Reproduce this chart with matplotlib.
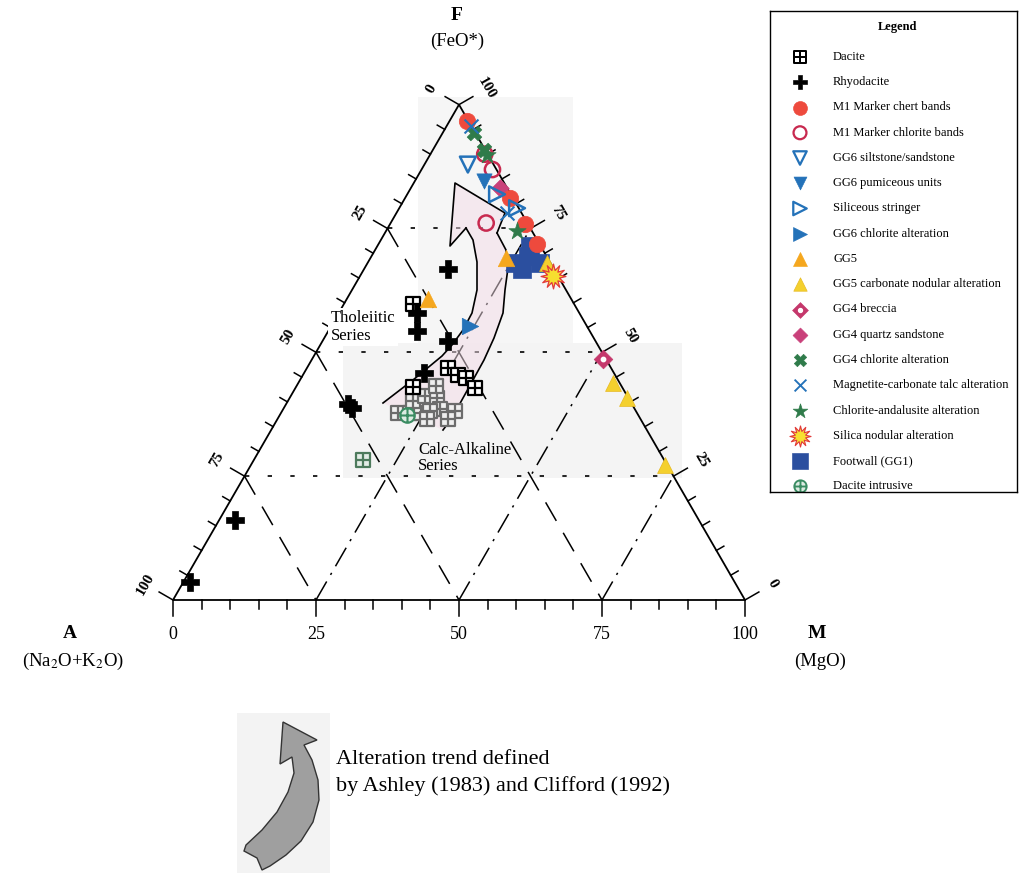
import numpy as np
import matplotlib
matplotlib.use("Agg")
import matplotlib.pyplot as plt
from matplotlib.path import Path
from matplotlib.patches import Polygon, Rectangle

plt.rcParams["font.family"] = ["Liberation Serif", "DejaVu Serif"]
plt.rcParams["mathtext.fontset"] = "stix"

# ---------------------------------------------------------------------------
# Whole-rock compositions, (A, F, M) in percent
#   A = Na2O + K2O,  F = FeO*,  M = MgO
# ---------------------------------------------------------------------------
dacite = [(28.1, 59.8, 12.1), (28.5, 46.9, 24.6), (27.4, 45.5, 27.1),
          (26.3, 44.9, 28.8), (25.9, 42.7, 31.4), (36.6, 42.9, 20.5)]
dacite_faint = [(41.8, 37.8, 20.4), (39.7, 37.8, 22.5), (37.7, 37.8, 24.5),
                (37.9, 40.2, 21.9), (35.3, 41.2, 23.5), (33.4, 40.8, 25.8),
                (34.0, 38.6, 27.4), (36.0, 38.2, 25.8), (31.6, 38.2, 30.2),
                (33.6, 36.6, 29.8), (37.3, 36.6, 26.1), (32.4, 43.3, 24.3)]
dacite_green = [(52.7, 28.2, 19.1)]
rhyodacite = [(18.5, 66.8, 14.7), (28.4, 57.9, 13.7), (30.2, 54.3, 15.5),
              (25.8, 52.3, 21.9), (33.2, 45.9, 20.9), (49.6, 39.6, 10.8),
              (49.3, 38.8, 11.9), (81.1, 16.1, 2.8), (95.2, 3.6, 1.2)]
m1_chert = [(0.3, 96.6, 3.1), (0.5, 81.1, 18.4), (0.5, 75.9, 23.6),
            (0.5, 71.8, 27.7)]
m1_chlorite = [(0.7, 86.9, 12.4), (7.2, 76.1, 16.7), (0.5, 90.0, 9.5)]
gg6_siltstone = [(4.5, 87.9, 7.6)]
gg6_pumiceous = [(3.3, 84.5, 12.2)]
siliceous_stringer = [(2.4, 81.9, 15.7), (0.3, 79.1, 20.6)]
gg6_chlorite = [(20.4, 55.3, 24.3)]
gg5 = [(25.0, 60.8, 14.2), (7.3, 69.0, 23.7)]
gg5_carbonate = [(1.1, 43.9, 55.0), (0.2, 40.8, 59.0), (0.4, 27.2, 72.4),
                 (0.6, 68.0, 31.4)]
gg4_breccia = [(0.5, 48.7, 50.8)]
gg4_quartz = [(0.9, 65.4, 33.7), (1.3, 83.1, 15.6)]
gg4_chlorite = [(0.2, 94.2, 5.6), (0.2, 90.9, 8.9)]
magnetite_talc = [(0.1, 95.6, 4.3), (2.6, 78.1, 19.3)]
chlorite_andalusite = [(0.2, 89.9, 9.9), (2.7, 74.4, 22.9)]
silica_nodular = [(0.9, 65.4, 33.7)]
footwall = [(6.2, 68.0, 25.8), (3.2, 69.4, 27.4), (1.8, 68.0, 30.2),
            (1.9, 71.4, 26.7), (5.6, 66.8, 27.6)]
dacite_intrusive = [(40.4, 37.4, 22.2)]

grid_levels = [25, 50, 75]
tick_step = 5

# ---------------------------------------------------------------------------
# Marker shapes
# ---------------------------------------------------------------------------
M_, L_, C_ = Path.MOVETO, Path.LINETO, Path.CLOSEPOLY
gridded_square = Path([(-1, -1), (1, -1), (1, 1), (-1, 1), (-1, -1),
                       (0, -1), (0, 1), (-1, 0), (1, 0)],
                      [M_, L_, L_, L_, C_, M_, L_, M_, L_])
circle_plus = Path.make_compound_path(
    Path.unit_circle(),
    Path([(0, -1), (0, 1), (-1, 0), (1, 0)], [M_, L_, M_, L_]))

BLUE = "#2472b9"
GREEN = "#2f7b4a"
MAGENTA = "#c5386c"

# label, data, style, shown in legend
series = [
    ("Dacite", dacite_faint, dict(marker=gridded_square, s=105, fc="#efefef", ec="#6c6c6c", lw=1.6), False),
    ("Dacite", dacite_green, dict(marker=gridded_square, s=105, fc="#e3ece6", ec="#4d7a5c", lw=1.6), False),
    ("Dacite", dacite, dict(marker=gridded_square, s=105, fc="white", ec="black", lw=1.6), True),
    ("Rhyodacite", rhyodacite, dict(marker="P", s=150, fc="black", ec="black", lw=0.5), True),
    ("Footwall (GG1)", footwall, dict(marker="s", s=175, fc="#2b4f9f", ec="#2b4f9f", lw=0.5), True),
    ("GG6 chlorite alteration", gg6_chlorite, dict(marker=">", s=140, fc=BLUE, ec=BLUE, lw=0.5), True),
    ("GG5", gg5, dict(marker="^", s=140, fc="#f5a71e", ec="#f5a71e", lw=0.5), True),
    ("GG5 carbonate nodular alteration", gg5_carbonate, dict(marker="^", s=130, fc="#f4d02e", ec="#e6b820", lw=0.5), True),
    ("GG4 breccia", gg4_breccia, dict(marker="D", s=90, fc=MAGENTA, ec=MAGENTA, lw=0.5, dot=True), True),
    ("GG4 quartz sandstone", gg4_quartz, dict(marker="D", s=80, fc="#c9407a", ec="#c9407a", lw=0.5), True),
    ("Silica nodular alteration", silica_nodular, dict(marker=(12, 1, 0), s=320, fc="#f6df30", ec="#e23a3a", lw=0.9), True),
    ("M1 Marker chert bands", m1_chert, dict(marker="o", s=140, fc="#ee4a3d", ec="#ee4a3d", lw=0.5), True),
    ("M1 Marker chlorite bands", m1_chlorite, dict(marker="o", s=120, fc="none", ec="#c8294f", lw=1.8), True),
    ("GG6 siltstone/sandstone", gg6_siltstone, dict(marker="v", s=130, fc="none", ec=BLUE, lw=1.8), True),
    ("GG6 pumiceous units", gg6_pumiceous, dict(marker="v", s=120, fc=BLUE, ec=BLUE, lw=0.5), True),
    ("Siliceous stringer", siliceous_stringer, dict(marker=">", s=130, fc="none", ec=BLUE, lw=1.8), True),
    ("GG4 chlorite alteration", gg4_chlorite, dict(marker="X", s=110, fc=GREEN, ec=GREEN, lw=0.5), True),
    ("Magnetite-carbonate talc alteration", magnetite_talc, dict(marker="x", s=100, fc=BLUE, ec="#3d84c6", lw=1.5), True),
    ("Chlorite-andalusite alteration", chlorite_andalusite, dict(marker="*", s=170, fc=GREEN, ec=GREEN, lw=0.5), True),
    ("Dacite intrusive", dacite_intrusive, dict(marker=circle_plus, s=110, fc="#dcebe2", ec="#3a8c62", lw=1.5), True),
]
legend_order = ["Dacite", "Rhyodacite", "M1 Marker chert bands",
                "M1 Marker chlorite bands", "GG6 siltstone/sandstone",
                "GG6 pumiceous units", "Siliceous stringer",
                "GG6 chlorite alteration", "GG5",
                "GG5 carbonate nodular alteration", "GG4 breccia",
                "GG4 quartz sandstone", "GG4 chlorite alteration",
                "Magnetite-carbonate talc alteration",
                "Chlorite-andalusite alteration", "Silica nodular alteration",
                "Footwall (GG1)", "Dacite intrusive"]

# ---------------------------------------------------------------------------
# Ternary helpers
# ---------------------------------------------------------------------------
H3 = np.sqrt(3) / 2


def to_xy(afm):
    arr = np.atleast_2d(np.asarray(afm, dtype=float))
    tot = arr.sum(axis=1)
    f = arr[:, 1] / tot * 100
    m = arr[:, 2] / tot * 100
    return m + f / 2, f * H3


W, H = 1019, 873
PX = 5.72            # page units per ternary percent
X0, Y0 = 173, 600    # page position of the A apex

fig = plt.figure(figsize=(W / 100, H / 100), dpi=100)
ax = fig.add_axes([0, 0, 1, 1])
ax.set_xlim(-X0 / PX, (W - X0) / PX)
ax.set_ylim((Y0 - H) / PX, Y0 / PX)
ax.axis("off")


def page(pts):
    return np.array([((x - X0) / PX, (Y0 - y) / PX) for x, y in pts])


# light backing panels
for (x0, y0, x1, y1), c in [((418, 97, 573, 343), "#f6f6f6"),
                            ((343, 343, 682, 478), "#f4f4f4"),
                            ((237, 713, 330, 873), "#f3f3f3")]:
    (bx, by), (tx, ty) = page([(x0, y1), (x1, y0)])
    ax.add_patch(Rectangle((bx, by), tx - bx, ty - by, fc=c, ec="none", zorder=0))

# triangle frame
cx, cy = to_xy([(100, 0, 0), (0, 0, 100), (0, 100, 0), (100, 0, 0)])
ax.plot(cx, cy, color="black", lw=1.3, zorder=2, solid_capstyle="butt")

# internal grid
for v in grid_levels:
    gx, gy = to_xy([(100 - v, v, 0), (0, v, 100 - v)])          # constant F
    ax.plot(gx, gy, color="black", lw=1.2, ls=(0, (2.6, 11)), zorder=1)
    gx, gy = to_xy([(v, 100 - v, 0), (v, 0, 100 - v)])          # constant A
    ax.plot(gx, gy, color="black", lw=1.1, ls=(0, (14, 9)), zorder=1)
    gx, gy = to_xy([(100 - v, 0, v), (0, 100 - v, v)])          # constant M
    ax.plot(gx, gy, color="black", lw=1.1, ls=(0, (14, 5, 1.5, 5)), zorder=1)

# ticks and tick labels
for v in range(0, 101, tick_step):
    major = v % 25 == 0
    L = 2.8 if major else 1.5
    bx, by = [c[0] for c in to_xy((100 - v, 0, v))]
    ax.plot([bx, bx], [by, by - L], color="black", lw=1.1, zorder=2)
    lx, ly = [c[0] for c in to_xy((v, 100 - v, 0))]
    ax.plot([lx, lx - L * H3], [ly, ly + L * 0.5], color="black", lw=1.1, zorder=2)
    rx, ry = [c[0] for c in to_xy((0, v, 100 - v))]
    ax.plot([rx, rx + L * H3], [ry, ry + L * 0.5], color="black", lw=1.1, zorder=2)
    if major:
        ax.text(bx, by - 6.0, f"{v}", ha="center", va="center", fontsize=13)
        d = 5.6
        ax.text(lx - d * H3, ly + d * 0.5, f"{v}", ha="center", va="center",
                fontsize=11, fontweight="bold", rotation=60)
        ax.text(rx + d * H3, ry + d * 0.5, f"{v}", ha="center", va="center",
                fontsize=11, fontweight="bold", rotation=-60)

# apex labels
for (px, py), t, kw in [((457, 15), "F", dict(fontsize=14, fontweight="bold")),
                        ((457, 41), "(FeO*)", dict(fontsize=13.5)),
                        ((70, 633), "A", dict(fontsize=14, fontweight="bold")),
                        ((73, 661), r"(Na$_2$O+K$_2$O)", dict(fontsize=13.5)),
                        ((817, 633), "M", dict(fontsize=14, fontweight="bold")),
                        ((820, 661), "(MgO)", dict(fontsize=13.5))]:
    (x, y), = page([(px, py)])
    ax.text(x, y, t, ha="center", va="center", **kw)

# alteration-trend arrow drawn on the diagram
left_edge = [(383, 403), (413, 380), (442, 356), (452, 345), (463, 330),
             (472, 313), (477, 290), (477, 262), (473, 240), (466, 228)]
head = [(466, 228), (450, 246), (455, 183), (505, 213), (497, 233)]
right_edge = [(497, 233), (506, 250), (508, 268), (505, 290), (503, 313),
              (494, 338), (484, 360), (473, 380), (463, 398), (452, 418),
              (443, 430)]
body = page(left_edge + head[1:] + right_edge[1:])
ax.add_patch(Polygon(body, closed=True, fc="#f3dce7", ec="none", alpha=0.5, zorder=1.5))
for seg in (left_edge, head, right_edge):
    p = page(seg)
    ax.plot(p[:, 0], p[:, 1], color="black", lw=1.2, zorder=2.5)

# series labels
(tx, ty), = page([(331, 327)])
ax.text(tx, ty, "Tholeiitic\nSeries", ha="left", va="center", fontsize=12,
        linespacing=1.1, zorder=3,
        bbox=dict(fc="white", ec="none", pad=2))
(tx, ty), = page([(418, 458)])
ax.text(tx, ty, "Calc-Alkaline\nSeries", ha="left", va="center", fontsize=12,
        linespacing=1.05, zorder=3)

# data points
for label, data, st, _ in series:
    x, y = to_xy(data)
    ax.scatter(x, y, marker=st["marker"], s=st["s"], facecolors=st["fc"],
               edgecolors=st["ec"], linewidths=st["lw"], zorder=4)
    if st.get("dot"):
        ax.scatter(x, y, marker="o", s=10, color="white", zorder=4.1)

# explanatory arrow for the alteration trend
arrow_outline = [(283, 722), (317, 740), (304, 745), (312, 760), (318, 780),
                 (319, 800), (313, 822), (301, 841), (286, 855), (270, 866),
                 (262, 870), (257, 858), (244, 851), (246, 845), (262, 830),
                 (277, 812), (288, 792), (294, 773), (292, 757), (280, 764)]
ax.add_patch(Polygon(page(arrow_outline), closed=True, fc="#9f9f9f",
                     ec="#333333", lw=1.0, zorder=3))
(tx, ty), = page([(336, 773)])
ax.text(tx, ty, "Alteration trend defined\nby Ashley (1983) and Clifford (1992)",
        ha="left", va="center", fontsize=16, linespacing=1.5)

# legend panel
lax = fig.add_axes([770 / W, 1 - 492 / H, (1017 - 770) / W, (492 - 11) / H])
lax.set_xlim(770, 1017)
lax.set_ylim(492, 11)
lax.set_xticks([])
lax.set_yticks([])
for sp in lax.spines.values():
    sp.set_linewidth(1.0)
    sp.set_color("black")
lax.text(897, 27, "Legend", ha="center", va="center", fontsize=9, fontweight="bold")
styles = {}
for label, data, st, show in series:
    if show:
        styles[label] = st
for i, label in enumerate(legend_order):
    st = styles[label]
    y = 57 + i * 25.25
    lax.scatter([800], [y], marker=st["marker"], s=st["s"] * 0.72,
                facecolors=st["fc"], edgecolors=st["ec"], linewidths=st["lw"] * 0.9)
    if st.get("dot"):
        lax.scatter([800], [y], marker="o", s=8, color="white")
    lax.text(833, y, label, ha="left", va="center", fontsize=9)

fig.savefig("out.png", dpi=100)
